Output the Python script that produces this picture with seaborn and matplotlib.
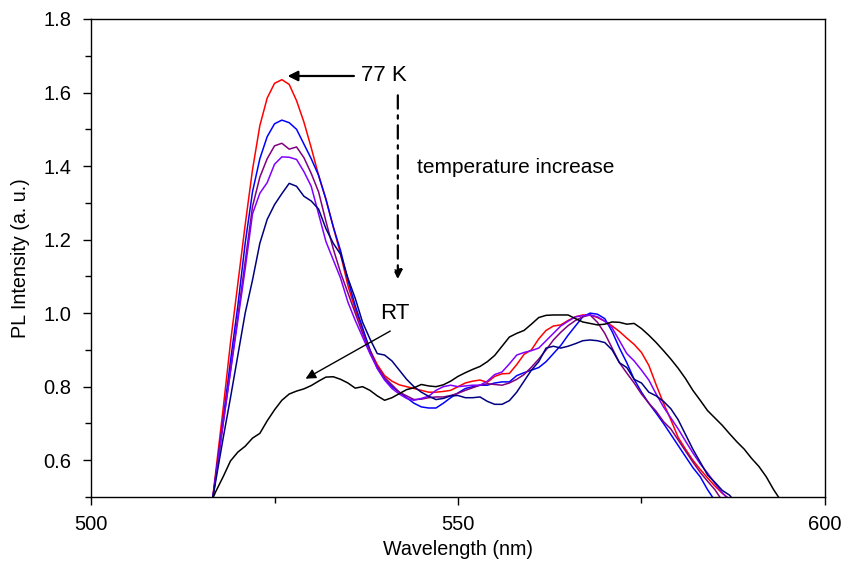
import numpy as np
import pandas as pd
import matplotlib
matplotlib.use("Agg")
import matplotlib.pyplot as plt
import seaborn as sns

# wavelength grid starts at 516 nm, 1 nm steps
wl_start = 516

red_77k = [0.40, 0.57, 0.74, 0.92, 1.08, 1.24, 1.39, 1.51, 1.585, 1.625,
           1.635, 1.622, 1.578, 1.52, 1.45, 1.375, 1.31, 1.235, 1.16, 1.075,
           1.01, 0.955, 0.90, 0.86, 0.83, 0.815, 0.805, 0.80, 0.795, 0.79,
           0.785, 0.785, 0.787, 0.79, 0.80, 0.81, 0.815, 0.818, 0.812, 0.828,
           0.835, 0.836, 0.86, 0.888, 0.90, 0.93, 0.953, 0.965, 0.968, 0.98,
           0.99, 0.995, 0.995, 0.988, 0.978, 0.965, 0.95, 0.932, 0.915, 0.893,
           0.858, 0.805, 0.755, 0.71, 0.662, 0.63, 0.60, 0.575, 0.552, 0.53,
           0.51, 0.495, 0.475]

blue = [0.41, 0.56, 0.71, 0.87, 1.02, 1.19, 1.33, 1.42, 1.48, 1.515,
        1.525, 1.518, 1.50, 1.46, 1.42, 1.375, 1.31, 1.235, 1.17, 1.09,
        1.02, 0.96, 0.90, 0.85, 0.82, 0.80, 0.785, 0.77, 0.755, 0.745,
        0.742, 0.742, 0.755, 0.77, 0.783, 0.795, 0.80, 0.804, 0.804, 0.81,
        0.813, 0.813, 0.83, 0.838, 0.845, 0.852, 0.868, 0.89, 0.912, 0.94,
        0.965, 0.99, 1.0, 0.997, 0.985, 0.95, 0.905, 0.865, 0.82, 0.785,
        0.755, 0.728, 0.70, 0.67, 0.64, 0.61, 0.58, 0.555, 0.52, 0.49,
        0.46]

purple = [0.41, 0.555, 0.70, 0.845, 0.99, 1.14, 1.29, 1.37, 1.42, 1.455,
          1.462, 1.446, 1.452, 1.423, 1.38, 1.33, 1.25, 1.175, 1.11, 1.055,
          1.0, 0.945, 0.895, 0.855, 0.825, 0.805, 0.785, 0.775, 0.765, 0.766,
          0.77, 0.772, 0.772, 0.776, 0.782, 0.79, 0.797, 0.804, 0.808, 0.806,
          0.804, 0.81, 0.82, 0.833, 0.853, 0.875, 0.90, 0.927, 0.948, 0.966,
          0.98, 0.99, 0.995, 0.975, 0.945, 0.905, 0.865, 0.837, 0.81, 0.78,
          0.755, 0.733, 0.705, 0.685, 0.655, 0.625, 0.595, 0.567, 0.543, 0.52,
          0.49]

violet = [0.41, 0.555, 0.70, 0.84, 0.98, 1.12, 1.27, 1.326, 1.355, 1.405,
          1.425, 1.424, 1.418, 1.385, 1.345, 1.27, 1.195, 1.145, 1.095, 1.03,
          0.98, 0.935, 0.89, 0.85, 0.818, 0.795, 0.78, 0.768, 0.763, 0.768,
          0.774, 0.79, 0.80, 0.804, 0.80, 0.802, 0.804, 0.804, 0.815, 0.833,
          0.84, 0.862, 0.886, 0.893, 0.898, 0.905, 0.925, 0.945, 0.965, 0.978,
          0.99, 0.993, 0.995, 0.99, 0.978, 0.96, 0.925, 0.89, 0.87, 0.845,
          0.818, 0.78, 0.745, 0.715, 0.685, 0.652, 0.62, 0.59, 0.565, 0.537,
          0.512, 0.49]

navy = [0.43, 0.545, 0.66, 0.77, 0.885, 1.0, 1.09, 1.19, 1.255, 1.295,
        1.325, 1.353, 1.345, 1.318, 1.305, 1.283, 1.23, 1.19, 1.16, 1.095,
        1.04, 0.975, 0.93, 0.89, 0.886, 0.87, 0.845, 0.82, 0.80, 0.785,
        0.774, 0.765, 0.768, 0.775, 0.776, 0.77, 0.77, 0.772, 0.76, 0.752,
        0.752, 0.762, 0.785, 0.815, 0.845, 0.868, 0.905, 0.91, 0.905, 0.91,
        0.917, 0.925, 0.927, 0.925, 0.92, 0.90, 0.865, 0.852, 0.82, 0.81,
        0.785, 0.775, 0.76, 0.74, 0.71, 0.67, 0.63, 0.595, 0.56, 0.54,
        0.518, 0.505, 0.48]

black_rt = [0.47, 0.515, 0.555, 0.598, 0.622, 0.638, 0.66, 0.673, 0.707, 0.737,
            0.763, 0.78, 0.788, 0.794, 0.803, 0.815, 0.826, 0.827, 0.82, 0.81,
            0.796, 0.80, 0.79, 0.775, 0.763, 0.77, 0.781, 0.792, 0.797, 0.806,
            0.802, 0.80, 0.805, 0.815, 0.828, 0.838, 0.847, 0.855, 0.868, 0.885,
            0.91, 0.935, 0.945, 0.953, 0.97, 0.988, 0.994, 0.995, 0.995, 0.995,
            0.985, 0.976, 0.972, 0.968, 0.97, 0.976, 0.975, 0.97, 0.972, 0.958,
            0.94, 0.92, 0.898, 0.875, 0.85, 0.822, 0.79, 0.763, 0.735, 0.715,
            0.695, 0.672, 0.65, 0.63, 0.605, 0.583, 0.555, 0.52, 0.49]

series = {"77 K": red_77k, "T2": blue, "T3": purple, "T4": violet, "T5": navy, "RT": black_rt}
colors = ["#FF0000", "#0000FF", "#800080", "#8000FF", "#000080", "#000000"]

rows = []
for name, vals in series.items():
    for i, v in enumerate(vals):
        rows.append((wl_start + i, v, name))
df = pd.DataFrame(rows, columns=["wavelength", "intensity", "temp"])

sns.set_style("ticks")
plt.rcParams["font.family"] = ["Liberation Sans", "DejaVu Sans"]
plt.rcParams["text.color"] = "black"
plt.rcParams["axes.labelcolor"] = "black"
plt.rcParams["xtick.color"] = "black"
plt.rcParams["ytick.color"] = "black"

fig = plt.figure(figsize=(8.43, 5.62), dpi=100)
ax = fig.add_axes([0.108, 0.1157, 0.8706, 0.8505])

sns.lineplot(data=df, x="wavelength", y="intensity", hue="temp",
             palette=colors, linewidth=1.1, legend=False, ax=ax, sort=False)

ax.set_xlim(500, 600)
ax.set_ylim(0.5, 1.8)
ax.set_xticks([500, 550, 600])
ax.set_xticks([525, 575], minor=True)
ax.set_yticks([0.6, 0.8, 1.0, 1.2, 1.4, 1.6, 1.8])
ax.set_yticks(np.arange(0.5, 1.81, 0.1), minor=True)
ax.set_yticklabels(["0.6", "0.8", "1.0", "1.2", "1.4", "1.6", "1.8"])
ax.tick_params(which="major", direction="out", length=6, width=1.0,
               labelsize=14.5, colors="black", top=False, right=False)
ax.tick_params(which="minor", direction="out", length=4, width=1.0,
               colors="black", top=False, right=False)
ax.tick_params(axis="x", pad=7)
ax.tick_params(axis="y", pad=8)
for s in ax.spines.values():
    s.set_visible(True)
    s.set_linewidth(1.0)
    s.set_color("black")

ax.set_xlabel("Wavelength (nm)", fontsize=14.2, labelpad=4, color="black")
ax.set_ylabel("PL Intensity (a. u.)", fontsize=14.2, labelpad=10, color="black")

# annotations
ax.annotate("", xy=(526.4, 1.645), xytext=(536.2, 1.645),
            arrowprops=dict(arrowstyle="-|>", color="black", lw=1.6,
                            mutation_scale=15))
ax.text(539.9, 1.645, "77 K", fontsize=16, ha="center", va="center", color="black")
ax.annotate("", xy=(541.8, 1.085), xytext=(541.8, 1.6),
            arrowprops=dict(arrowstyle="-|>", color="black", lw=1.6,
                            linestyle=(0, (6, 3, 1.5, 3)), mutation_scale=13))
ax.text(544.4, 1.395, "temperature increase", fontsize=15, ha="left", va="center",
        color="black")
ax.text(541.4, 1.0, "RT", fontsize=16, ha="center", va="center", color="black")
ax.annotate("", xy=(528.9, 0.818), xytext=(541.1, 0.955),
            arrowprops=dict(arrowstyle="-|>", color="black", lw=1.0,
                            mutation_scale=15))

fig.savefig("out.png", dpi=100)
